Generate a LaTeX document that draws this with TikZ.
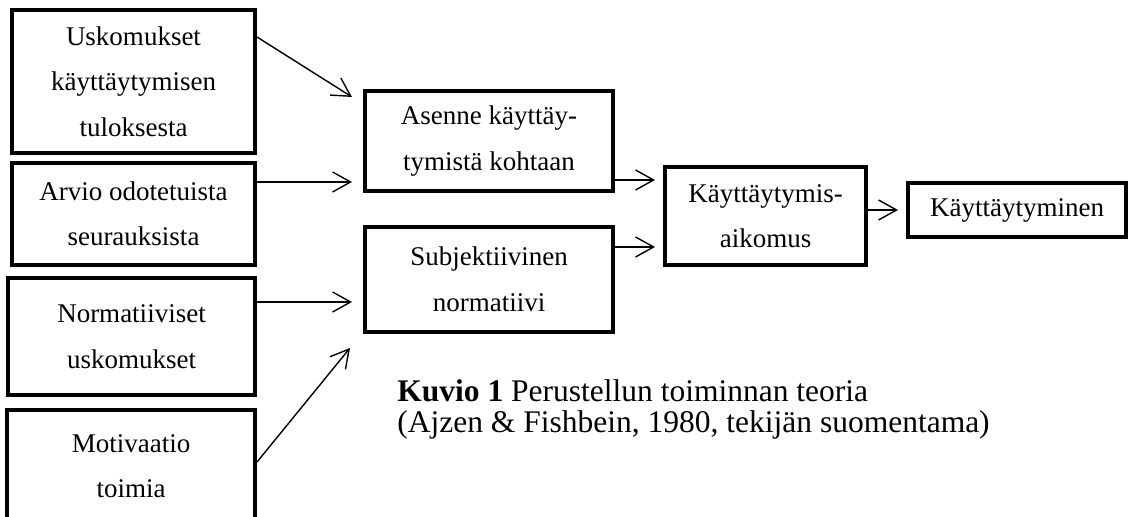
\documentclass[tikz,border=0pt]{standalone}
\usepackage{fontspec}
\setmainfont{Liberation Serif}
\usetikzlibrary{arrows.meta, calc}

\tikzset{
    box/.style={draw, line width=2pt, align=center, inner sep=0pt,
        font=\fontsize{13.5}{22.75}\selectfont},
    link/.style={-{Straight Barb[length=9pt, width=10pt]}, line width=0.7pt},
}

\begin{document}
\begin{tikzpicture}[x=0.5pt, y=-0.5pt]
        \useasboundingbox (0, 0) rectangle (1128, 517);

        % Uskomukset ja arviot
        \node[box, minimum width=121.5pt, minimum height=71.5pt] (usk) at (133.5, 81.5) {Uskomukset\\käyttäytymisen\\tuloksesta};
        \node[box, minimum width=121.5pt, minimum height=51pt] (arvio) at (133.5, 214) {Arvio odotetuista\\seurauksista};

        % Normatiiviset uskomukset ja motivaatio
        \node[box, minimum width=123.5pt, minimum height=58.5pt] (norm) at (131.5, 336.5) {Normatiiviset\\uskomukset};
        \node[box, minimum width=124pt, minimum height=56pt] (motiv) at (131, 466) {Motivaatio\\toimia};

        % Asenne ja normatiivi
        \node[box, minimum width=124pt, minimum height=50pt] (asenne) at (489, 141) {Asenne käyttäy-\\tymistä kohtaan};
        \node[box, minimum width=124pt, minimum height=52.5pt] (subj) at (489, 279.5) {Subjektiivinen\\normatiivi};

        % Aikomus ja käyttäytyminen
        \node[box, minimum width=100.5pt, minimum height=49pt] (aikomus) at (765.5, 216) {Käyttäytymis-\\aikomus};
        \node[box, minimum width=109pt, minimum height=27pt] (kaytt) at (1017, 210) {Käyttäytyminen};

        % Nuolet
        \draw[link] ($(usk.north east)+(0, 29)$) -- ($(asenne.north west)+(-11, 8)$);
        \draw[link] ($(arvio.north east)+(0, 21)$) -- ($(asenne.south west)+(-11, -11)$);
        \draw[link] ($(norm.north east)+(0, 26)$) -- ($(subj.north west)+(-11, 77)$);
        \draw[link] ($(motiv.north east)+(0, 54)$) -- ($(subj.south west)+(-13, 14)$);
        \draw[link] ($(asenne.south east)+(0, -13)$) -- ($(aikomus.north west)+(-8, 15)$);
        \draw[link] ($(subj.north east)+(0, 22)$) -- ($(aikomus.south west)+(-8, -20)$);
        \draw[link] ($(aikomus.east)+(0, -6)$) -- ($(kaytt.west)+(-8, 0)$);

        % Kuvioteksti
        \node[anchor=base west, align=left, inner sep=0pt, font=\fontsize{15.75}{15}\selectfont] (kuvio) at (397, 432)
            {\textbf{Kuvio 1} Perustellun toiminnan teoria\\(Ajzen \& Fishbein, 1980, tekijän suomentama)};
\end{tikzpicture}
\end{document}
